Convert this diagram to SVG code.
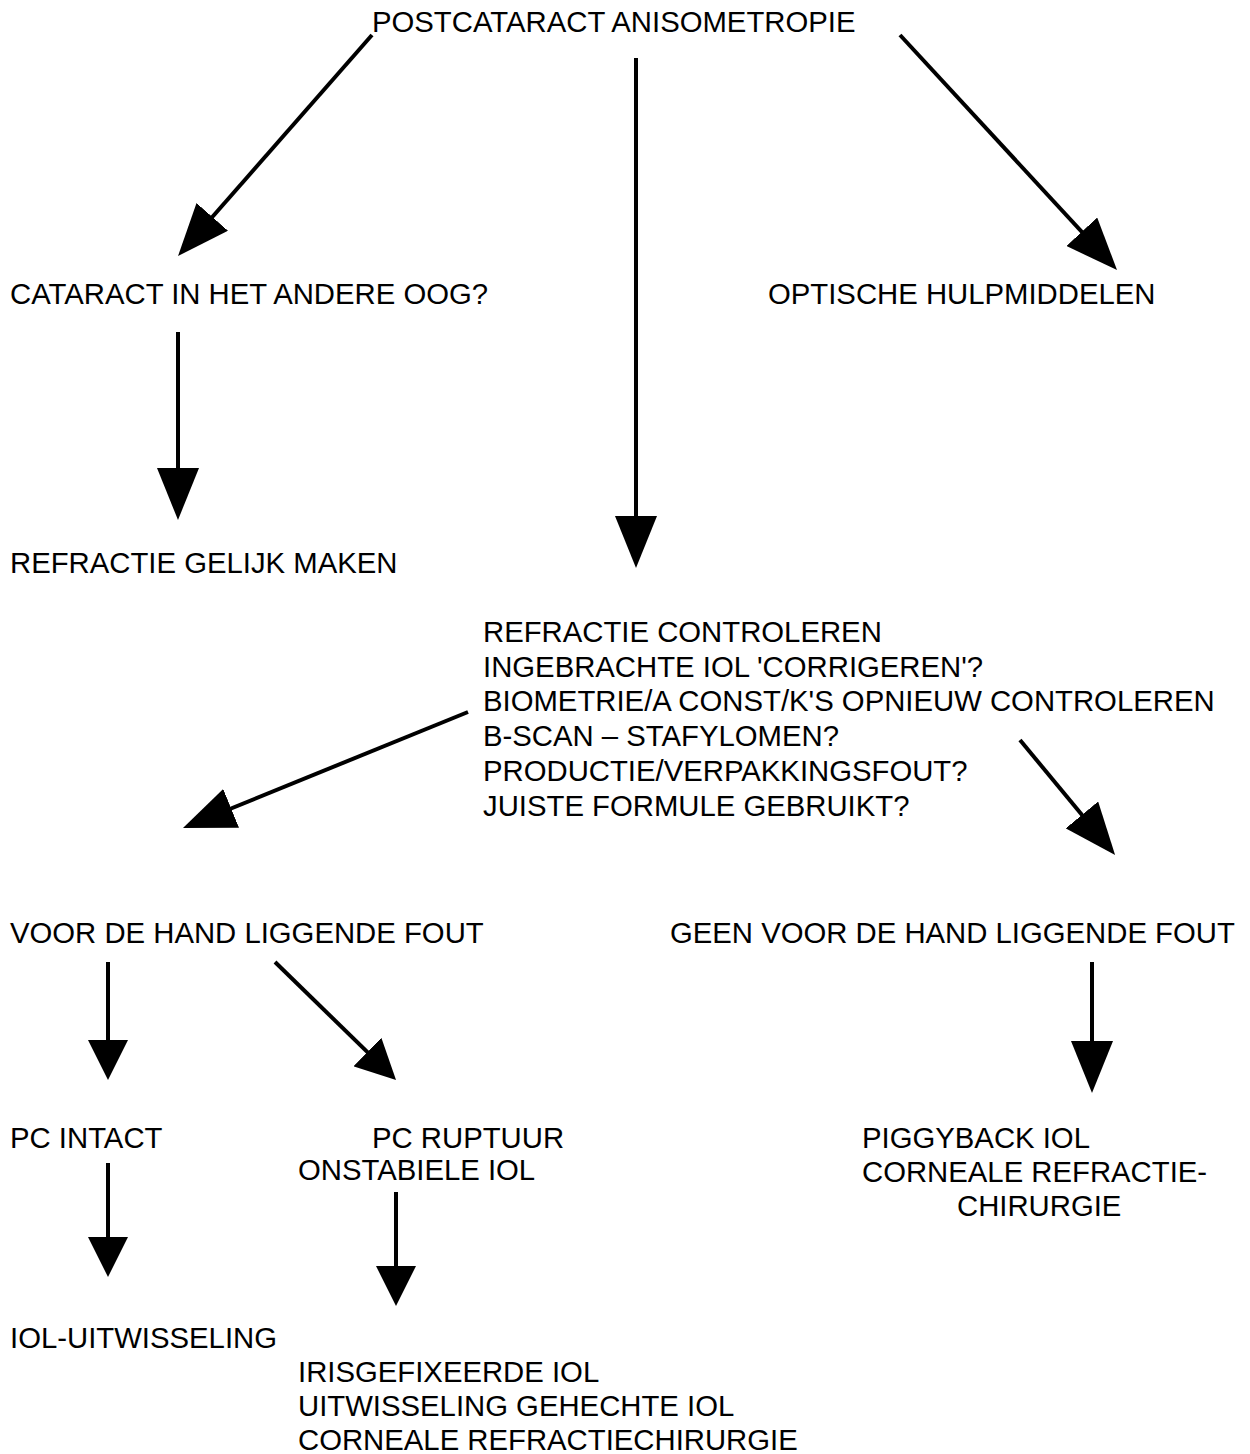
<svg xmlns="http://www.w3.org/2000/svg" width="1250" height="1454" viewBox="0 0 1250 1454">
<style>
text{font-family:"Liberation Sans",Arial,sans-serif;font-size:29.3px;fill:#000}
.c{fill:none;stroke:#000;stroke-width:4}
</style>
<defs>
<marker id="ah" markerUnits="userSpaceOnUse" markerWidth="40" markerHeight="40" viewBox="0 0 40 40" refX="32" refY="20" orient="auto">
<path d="M0,0 L40,20 L0,40 z" fill="#000"/>
</marker>
<marker id="ahL" markerUnits="userSpaceOnUse" markerWidth="52" markerHeight="42" viewBox="0 0 52 42" refX="44" refY="21" orient="auto">
<path d="M0,0 L52,21 L0,42 z" fill="#000"/>
</marker>
</defs>
<rect width="1250" height="1454" fill="#fff"/>
<g id="connectors">
<path class="c" marker-end="url(#ahL)" d="M372,35 L183.3,250"/>
<path class="c" marker-end="url(#ahL)" d="M636,58 L636,560"/>
<path class="c" marker-end="url(#ahL)" d="M900,35 L1111.6,264.1"/>
<path class="c" marker-end="url(#ahL)" d="M178,332 L178,512"/>
<path class="c" marker-end="url(#ahL)" d="M468,712 L190.4,825"/>
<path class="c" marker-end="url(#ahL)" d="M1020,740 L1110,848.8"/>
<path class="c" marker-end="url(#ah)" d="M108,962 L108,1072"/>
<path class="c" marker-end="url(#ah)" d="M275,962 L390.3,1074.4"/>
<path class="c" marker-end="url(#ahL)" d="M1092,962 L1092,1085"/>
<path class="c" marker-end="url(#ah)" d="M108,1163 L108,1269"/>
<path class="c" marker-end="url(#ah)" d="M396,1192 L396,1298"/>
</g>
<g id="n-root"><text x="372" y="32">POSTCATARACT ANISOMETROPIE</text></g>
<g id="n-cataract"><text x="10" y="304">CATARACT IN HET ANDERE OOG?</text></g>
<g id="n-optisch"><text x="768" y="304">OPTISCHE HULPMIDDELEN</text></g>
<g id="n-gelijk"><text x="10" y="573">REFRACTIE GELIJK MAKEN</text></g>
<g id="n-controle">
<text x="483" y="642">REFRACTIE CONTROLEREN</text>
<text x="483" y="677">INGEBRACHTE IOL 'CORRIGEREN'?</text>
<text x="483" y="711">BIOMETRIE/A CONST/K'S OPNIEUW CONTROLEREN</text>
<text x="483" y="746">B-SCAN – STAFYLOMEN?</text>
<text x="483" y="781">PRODUCTIE/VERPAKKINGSFOUT?</text>
<text x="483" y="816">JUISTE FORMULE GEBRUIKT?</text>
</g>
<g id="n-fout"><text x="10" y="943">VOOR DE HAND LIGGENDE FOUT</text></g>
<g id="n-geenfout"><text x="670" y="943">GEEN VOOR DE HAND LIGGENDE FOUT</text></g>
<g id="n-intact"><text x="10" y="1148">PC INTACT</text></g>
<g id="n-ruptuur">
<text x="372" y="1148">PC RUPTUUR</text>
<text x="298" y="1180">ONSTABIELE IOL</text>
</g>
<g id="n-piggyback">
<text x="862" y="1148">PIGGYBACK IOL</text>
<text x="862" y="1182">CORNEALE REFRACTIE-</text>
<text x="957" y="1216">CHIRURGIE</text>
</g>
<g id="n-uitwisseling"><text x="10" y="1348">IOL-UITWISSELING</text></g>
<g id="n-iris">
<text x="298" y="1382">IRISGEFIXEERDE IOL</text>
<text x="298" y="1416">UITWISSELING GEHECHTE IOL</text>
<text x="298" y="1450">CORNEALE REFRACTIECHIRURGIE</text>
</g>
</svg>
